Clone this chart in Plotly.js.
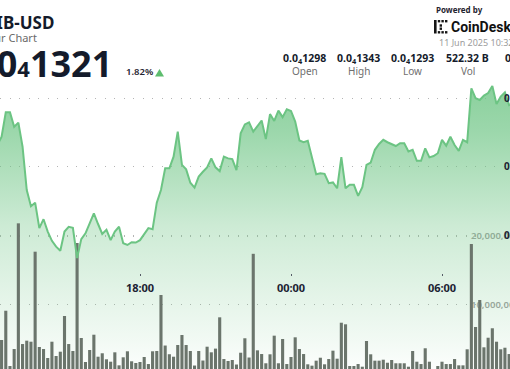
<!DOCTYPE html>
<html>
<head>
<meta charset="utf-8">
<script src="https://cdn.plot.ly/plotly-3.0.1.min.js"></script>
<style>
html,body{margin:0;padding:0;background:#ffffff;overflow:hidden;width:510px;height:369px}
#chart{width:510px;height:369px}
</style>
</head>
<body>
<div id="chart"></div>
<script>
// ---------- data ----------
const symbol = 'SHIB-USD';
const subtitle = '24 Hour Chart';
const lastPriceText = '0.0<span style="font-size:22px">4</span>1321';
const changeText = '1.82%';
const poweredBy = 'Powered by';
const brand = 'CoinDesk';
const stamp = '11 Jun 2025 10:32';
const statValues = ['0.0<sub>4</sub>1298', '0.0<sub>4</sub>1343', '0.0<sub>4</sub>1293', '522.32 B', '0.0<sub>4</sub>1319'];
const statLabels = ['Open', 'High', 'Low', 'Vol', 'VWAP'];

// 10-minute samples starting 2025-06-10 12:20 (UTC)
const startTime = Date.UTC(2025, 5, 10, 12, 20);
const stepMinutes = 10;

// price in units of 1e-8 USD (0.0₄1321 = 1321)
const priceE8 = [
 1326.4, 1328.8, 1335.9, 1335.9, 1331.7, 1332.9, 1325.9, 1313.3, 1308.6, 1309.6,
 1302.2, 1304.8, 1301.2, 1298.5, 1296.8, 1295.6, 1301.2, 1302.6, 1302.3, 1293.5,
 1299.0, 1300.7, 1303.6, 1306.5, 1303.4, 1300.5, 1301.7, 1298.7, 1301.2, 1302.6,
 1297.8, 1297.3, 1298.1, 1298.0, 1298.7, 1300.4, 1302.2, 1301.9, 1309.6, 1313.3,
 1319.6, 1319.6, 1323.0, 1330.3, 1320.6, 1319.3, 1315.4, 1314.0, 1317.2, 1318.6,
 1319.9, 1322.5, 1319.9, 1318.8, 1323.0, 1322.5, 1322.3, 1319.1, 1329.8, 1332.4,
 1333.0, 1330.3, 1331.9, 1333.5, 1328.1, 1335.4, 1333.4, 1336.4, 1334.5, 1336.8,
 1336.3, 1333.2, 1327.7, 1327.2, 1327.6, 1322.5, 1317.9, 1318.2, 1318.0, 1315.3,
 1315.5, 1313.8, 1322.9, 1313.8, 1314.8, 1314.8, 1311.6, 1314.1, 1320.6, 1321.3,
 1325.0, 1326.7, 1327.9, 1327.2, 1326.6, 1326.1, 1326.9, 1326.9, 1324.5, 1325.0,
 1321.8, 1321.8, 1325.4, 1322.8, 1323.2, 1324.0, 1327.9, 1326.2, 1328.8, 1326.4,
 1324.7, 1327.9, 1327.2, 1342.9, 1340.0, 1339.5, 1340.8, 1341.5, 1343.6, 1338.3,
 1340.5, 1341.7, 1338.0, 1338.6
];

// volume in millions, starting at 12:30 (second sample)
const volumeM = [
 4.82, 9.09, 1.02, 3.50, 21.85, 4.23, 4.72, 4.57, 17.71, 3.80,
 3.50, 2.19, 4.57, 2.48, 3.11, 8.32, 4.23, 3.21, 18.98, 5.11,
 1.61, 3.36, 5.59, 2.38, 2.88, 2.00, 1.65, 3.02, 1.12, 2.29,
 3.17, 1.71, 1.46, 1.61, 2.34, 1.31, 3.17, 3.21, 11.39, 4.01,
 2.74, 2.38, 4.09, 5.55, 4.09, 3.21, 1.09, 3.21, 1.82, 3.84,
 3.02, 3.56, 8.13, 2.04, 1.75, 1.90, 1.24, 2.96, 5.07, 2.26,
 17.40, 3.31, 2.77, 1.42, 2.73, 5.45, 1.42, 4.96, 1.31, 2.34,
 5.21, 3.50, 2.77, 1.27, 1.07, 1.80, 2.23, 1.27, 2.04, 3.26,
 2.09, 7.34, 7.11, 1.02, 1.02, 1.31, 0.92, 4.67, 2.73, 1.80,
 1.80, 1.94, 1.50, 1.90, 1.42, 1.42, 1.42, 0.92, 3.21, 1.65,
 1.31, 3.61, 1.65, 0.40, 1.02, 1.65, 1.31, 1.31, 2.04, 1.12,
 1.12, 3.46, 18.83, 6.72, 10.66, 3.75, 5.15, 6.53, 4.57, 3.46,
 3.69, 2.77
];

const timeTicks = ['2025-06-10 18:00', '2025-06-11 00:00', '2025-06-11 06:00'];
const priceTicks = [1300, 1320, 1340];
const volumeTicks = [10000000, 20000000];

// ---------- build ----------
function stampAt(i) {
  return new Date(startTime + i * stepMinutes * 60000).toISOString().slice(0, 16).replace('T', ' ');
}
const priceTimes = priceE8.map((_, i) => stampAt(i));
const volumeTimes = volumeM.map((_, i) => stampAt(i + 1));
const volume = volumeM.map(v => v * 1e6);

const W = 510, H = 369;
const px = x => x / W;
const py = y => 1 - y / H;

const green = '#6cc483';
const priceRange = [1261.2, 1368.6];

const traces = [
  {
    type: 'scatter', x: priceTimes, y: priceE8, xaxis: 'x', yaxis: 'y',
    mode: 'lines', line: {width: 0, color: green}, fill: 'tozeroy',
    fillgradient: {
      type: 'vertical', start: 1261.2, stop: 1344.2,
      colorscale: [
        [0, 'rgba(108,196,131,0.02)'],
        [0.1, 'rgba(108,196,131,0.09)'],
        [0.25, 'rgba(108,196,131,0.18)'],
        [0.5, 'rgba(108,196,131,0.34)'],
        [0.84, 'rgba(108,196,131,0.68)'],
        [1, 'rgba(108,196,131,0.80)']
      ]
    },
    hoverinfo: 'skip'
  },
  {
    type: 'bar', x: volumeTimes, y: volume, xaxis: 'x', yaxis: 'y2',
    marker: {color: '#6b756c', line: {width: 0}}, hoverinfo: 'skip'
  },
  {
    type: 'scatter', x: priceTimes, y: priceE8, xaxis: 'x', yaxis: 'y3',
    mode: 'lines', line: {width: 2, color: green}, hoverinfo: 'skip'
  }
];

const statCenters = [304.5, 358.7, 412.5, 467.5, 526];

const annotations = [
  {text: symbol, x: px(-28.5), y: py(22.8), xanchor: 'left', yanchor: 'middle',
   font: {size: 17, color: '#141b2b', weight: 700}},
  {text: subtitle, x: px(-38), y: py(37), xanchor: 'left', yanchor: 'middle',
   font: {size: 11, color: '#6a6a6a'}},
  {text: lastPriceText, x: px(-36), y: py(63), xanchor: 'left', yanchor: 'middle',
   font: {size: 36, color: '#141b2b', weight: 700}},
  {text: changeText, x: px(124), y: py(72), xanchor: 'left', yanchor: 'middle',
   font: {size: 9.5, color: '#1f2430', weight: 600}},
  {text: poweredBy, x: px(434), y: py(9.8), xanchor: 'left', yanchor: 'middle',
   font: {size: 8, color: '#1f2430', weight: 700}},
  {text: brand, x: px(448.5), y: py(26.8), xanchor: 'left', yanchor: 'middle',
   font: {family: 'Roboto, sans-serif', size: 14, color: '#111111', weight: 700}},
  {text: stamp, x: px(436.5), y: py(43), xanchor: 'left', yanchor: 'middle',
   font: {size: 9, color: '#9b9b9b'}}
];
statValues.forEach((v, i) => {
  annotations.push({text: v, x: px(statCenters[i]), y: py(58.3), xanchor: 'center', yanchor: 'middle',
    font: {size: 10.5, color: '#141b2b', weight: 700}});
  annotations.push({text: statLabels[i], x: px(statCenters[i]), y: py(71.3), xanchor: 'center', yanchor: 'middle',
    font: {size: 10, color: '#6f6f6f'}});
});
annotations.forEach(a => { a.xref = 'paper'; a.yref = 'paper'; a.showarrow = false; });

function rect(x0, y0, x1, y1, color) {
  return {type: 'rect', xref: 'paper', yref: 'paper', x0: px(x0), x1: px(x1), y0: py(y1), y1: py(y0),
          fillcolor: color, line: {width: 0}};
}
const logoColor = '#151515';
const shapes = [
  // up triangle next to the change
  {type: 'path', xref: 'paper', yref: 'paper',
   path: `M ${px(155)} ${py(76.5)} L ${px(159.5)} ${py(69)} L ${px(164)} ${py(76.5)} Z`,
   fillcolor: '#5dbd6e', line: {width: 0}},
  // CoinDesk pixel logo
  rect(434, 20, 436.6, 33.5, logoColor),
  rect(437.8, 20, 440.2, 22.4, logoColor),
  rect(441.4, 20, 443.8, 22.4, logoColor),
  rect(445, 20, 447.4, 22.4, logoColor),
  rect(437.8, 31.1, 440.2, 33.5, logoColor),
  rect(441.4, 31.1, 443.8, 33.5, logoColor),
  rect(445, 31.1, 447.4, 33.5, logoColor),
  rect(439.6, 24.3, 442, 26.7, logoColor),
  rect(439.6, 27.5, 442, 29.9, logoColor)
];

const gridDash = '1px,8.5px';
const layout = {
  width: W, height: H,
  margin: {l: 0, r: 0, t: 0, b: 0, pad: 0},
  paper_bgcolor: '#ffffff', plot_bgcolor: '#ffffff',
  showlegend: false, bargap: 0.26, hovermode: false,
  font: {family: '"Noto Sans", sans-serif'},
  xaxis: {
    type: 'date', range: ['2025-06-10 12:26:13', '2025-06-11 08:42:07'],
    anchor: 'free', position: py(273),
    tickvals: timeTicks, tickformat: '%H:%M',
    ticks: 'outside', ticklen: 2, tickwidth: 1, tickcolor: '#555b66',
    showgrid: false, showline: false, zeroline: false,
    tickfont: {size: 11, color: '#1b2232', weight: 700},
    ticklabelstandoff: 3, fixedrange: true
  },
  yaxis: {
    range: priceRange, side: 'right', anchor: 'free', position: px(503),
    tickvals: priceTicks, ticktext: priceTicks.map(v => '0.0<sub>4</sub>' + v),
    showgrid: true, gridcolor: '#b4b4b4', gridwidth: 1, griddash: gridDash,
    zeroline: false, showline: false, ticks: '',
    tickfont: {size: 10, color: '#1b2232', weight: 700}, fixedrange: true
  },
  yaxis2: {
    overlaying: 'y', range: [584000, 54453000], side: 'right', anchor: 'free', position: px(470),
    tickvals: volumeTicks, tickformat: ',d',
    showgrid: true, gridcolor: '#b4b4b4', gridwidth: 1, griddash: gridDash,
    zeroline: false, showline: false, ticks: '', layer: 'below traces',
    tickfont: {size: 9.5, color: '#a2a2a2', weight: 600}, fixedrange: true
  },
  yaxis3: {overlaying: 'y', range: priceRange, visible: false, fixedrange: true},
  annotations: annotations,
  shapes: shapes
};

Plotly.newPlot('chart', traces, layout, {staticPlot: true, displayModeBar: false});
</script>
</body>
</html>
